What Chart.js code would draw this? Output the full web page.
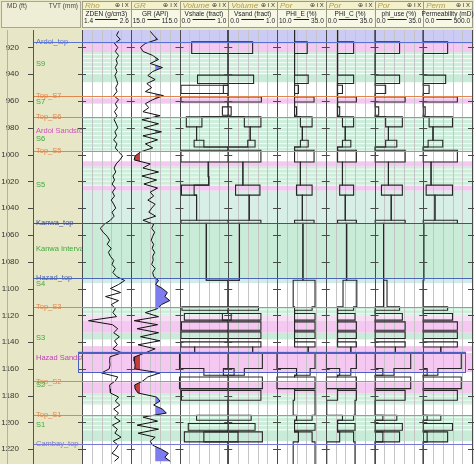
<!DOCTYPE html>
<html><head><meta charset="utf-8">
<script src="https://cdn.jsdelivr.net/npm/chart.js@4/dist/chart.umd.min.js"></script>
<style>html,body{margin:0;padding:0;background:#e7e7c7;}canvas{display:block}</style>
</head><body>
<canvas id="c" width="474" height="464"></canvas>
<script>
// ---------------- DATA ----------------
const depthMin = 907, depthMax = 1231;
const trackTitles = ['Rho','GR','Volume','Volume','Por','Por','Por','Perm'];
const curveNames = ['ZDEN (g/cm3)','GR (API)','Vshale (fract)','Vsand (fract)','PHI_E (%)','PHI_C (%)','phi_use (%)','Permeability (mD)'];
const trackMin = [1.4, 15, 0, 0, 10, 0, 0, 0];
const trackMax = [2.6, 115, 1, 1, 35, 35, 35, 500];
const minLabels = ['1.4','15.0','0.0','0.0','10.0','0.0','0.0','0.0'];
const maxLabels = ['2.6','115.0','1.0','1.0','35.0','35.0','35.0','500.0'];

const logDepth = [908,911,914,917,920,923,926,929,932,935,938,941,944,947,950,953,956,959,962,965,968,971,974,977,980,983,986,989,992,995,998,1001,1004,1007,1010,1013,1016,1019,1022,1025,1028,1031,1034,1037,1040,1043,1046,1049,1052,1055,1058,1061,1064,1067,1070,1073,1076,1079,1082,1085,1088,1091,1094,1097,1100,1103,1106,1109,1112,1115,1118,1121,1124,1127,1130,1133,1136,1139,1142,1145,1148,1151,1154,1157,1160,1163,1166,1169,1172,1175,1178,1181,1184,1187,1190,1193,1196,1199,1202,1205,1208,1211,1214,1217,1220,1223,1226,1229];
const rhoValues = [2.30,2.25,2.34, 2.20,2.28,2.22,2.30, 2.24,2.27,2.22,2.26,2.21,2.25,2.28,2.23,2.26, 2.18,2.30,2.22,2.27, 2.20,2.26,2.19,2.24,2.28,2.21,2.25,2.18,2.26,2.22, 2.30,2.40,2.33,2.24, 2.19,2.23,2.16,2.20,2.14,2.22, 2.15,2.20,2.12,2.18,2.23,2.14,2.19,2.10, 1.95,1.85,1.92,2.02, 2.08,2.02,2.12,2.05,2.10, 2.18,2.14,2.22,2.16,2.25, 2.45,2.30, 2.10,2.35,1.98,2.30,2.12, 2.22,2.16,2.25, 1.56, 2.15,2.28,2.18,2.32,2.20,2.27,2.16, 2.38, 2.09,2.08,2.09,2.07, 1.88, 2.28,2.22, 2.08,2.09,2.10, 2.30,2.22,2.33, 2.18,2.30,2.20,2.34,2.15,2.27,2.21,2.36,2.17,2.29,2.23,2.14,2.31,2.20];
const grValues = [55,62,70, 45,35,40,60, 72,55,80,60,50,65,48,58,45, 82,60,45,52, 40,75,38,72,42,78,40,70,45,60, 35,24,22,55, 40,72,38,68,42,70, 55,62,50,65,58,52,66,40, 62,58,64,60, 57,62,59,64,60, 61,58,65,60,62, 72,66, 80,90,85,95,78, 70,45,72, 22, 70,28,72,35,75,30,65, 45, 23,22,24,23, 75, 50,40, 23,24,30, 68,75,62, 80,88,40,70,28,72,30,65,55,60,78,92,85,96];
const grShaleCutoff = 65, grSandCutoff = 34;

const zoneTops = [907,915.8,924.5,940.7,946.9,948.2,954.4,956.9,960.7,964.4,970.6,971.8,979.3,989.3,994.3,996.8,1000.5,1005.5,1016.6,1022.8,1025.3,1030.3,1049,1051.4,1093.8,1113.7,1116.2,1118.7,1123.6,1124.9,1131.1,1132.4,1137.3,1139.8,1143.6,1148.5,1159.7,1164.7,1166,1174.7,1176,1183.4,1194.6,1198.3,1200.8,1205.8,1207,1214.5];
const vshLo  = [1,.25,1,.37,1,.03,1,.03,1,.88,1,.14,.35,.30,1,.03,.03,.59,.60,.04,.04,.35,.03,.55,1,.05,1,.10,1,.04,1,.03,1,.03,.31,0,.50,1,0,1,.04,1,.35,1,.18,1,.10,1];
const vshHi  = [1,1,1,1,1,.90,1,1,1,1,1,.46,.35,.50,1,1,1,.59,.60,.30,.30,.35,1,.55,1,1,1,.88,1,1,1,1,1,1,.31,1,.90,1,1,1,1,1,1,1,1,1,.50,1];
const vsandLo = [0,0,0,0,0,0,0,0,0,0,0,.33,.45,.40,0,0,0,.30,.30,.15,.15,.43,0,.23,0,0,0,.06,0,0,0,0,0,0,.50,0,.12,0,0,0,0,0,0,0,0,0,.20,0];
const vsandHi = [0,.50,0,.52,0,0,0,.68,0,.06,0,.67,.45,.55,0,.67,.67,.30,.30,.65,.65,.43,.67,.23,0,.62,0,.67,0,.67,0,.67,0,.67,.50,.70,.33,0,.70,0,.67,0,.47,0,.55,0,.70,0];
const phieLo = [19,19,19,19,19,19,19,19,19,19,19,22,23,22,19,19,19,22,22,20,20,23,19,23.3,18.3,19,19,19,19,19,19,19,19,19,26,10,20,19,10,19,19,18.3,20,19,19,19,21,18.3];
const phieHi = [19,25.5,19,26,19,21,19,29,19,20,19,28,23,26,19,29,29,22,22,28,28,23,29,23.3,29.5,28,19,29.5,19,29.5,19,29.5,19,29.5,26,29.5,27,19,29.5,19,29.5,29.5,28,19,29.5,19,28,29.5];
const phicLo = [8.5,8.5,8.5,8.5,8.5,8.5,8.5,8.5,8.5,8.5,8.5,12,14,12,8.5,8.5,8.5,12,12,10,10,14,8.5,15,12.4,8.5,8.5,8.5,8.5,8.5,8.5,8.5,8.5,8.5,18,0.5,10,8.5,0.5,8.5,8.5,0.7,12,8.5,8.5,8.5,10,0.7];
const phicHi = [8.5,20,8.5,20,8.5,12,8.5,22,8.5,10,8.5,20,14,18,8.5,22,22,12,12,20,20,14,22,15,22.3,20,8.5,21,8.5,22,8.5,22,8.5,22,18,22,18,8.5,22,8.5,22,21,20,8.5,21,8.5,20,21];
const phiuLo = [.5,.5,.5,.5,.5,.5,.5,.5,.5,.5,.5,8,10,8,.5,.5,.5,10,10,5,5,12,.5,6.5,6.5,.5,.5,.5,.5,.5,.5,.5,.5,.5,15,.5,6,.5,.5,.5,.5,.5,6,.5,.5,.5,6,.5];
const phiuHi = [.5,18,.5,18,.5,8,.5,22,.5,3,.5,20,10,16,.5,22,22,10,10,20,20,12,22,6.5,9,18,.5,20,.5,22,.5,22,.5,22,15,26,14,.5,26,.5,22,.5,16,.5,20,.5,18,.5];
const permLo = [0,0,0,0,0,0,0,0,0,0,0,60,100,50,0,0,0,80,80,30,30,120,0,5,0,0,0,0,0,0,0,0,0,0,180,0,40,0,0,0,0,0,40,0,0,0,40,0];
const permHi = [0,250,0,230,0,60,0,350,0,20,0,300,100,200,0,350,350,80,80,300,300,120,350,5,0,250,0,300,0,350,0,350,0,350,180,390,150,0,390,0,350,0,180,0,300,0,250,0];

const bandTop    = [907,917.5,923.5,940,958,972,1005,1009,1023.5,1027,1051.4,1093,1114,1120,1124,1133,1143,1148,1170,1178.5,1194.4,1206];
const bandBottom = [917.5,923.5,939,946,962,997,1009,1023.5,1027,1051.4,1093,1096,1120,1124,1133,1138,1147,1162.4,1178.5,1187,1206,1214];
const bandKind   = ['lav','pink','stripe','green','pink','stripe','pink','stripe','pink','pale','green','cyan','stripe','lpink','pink','green','pink','pink','pink','stripe','stripe','green'];

const topNames  = ['Ardoi_top','Top_S7','Top_S6','Top_S5','Kanwa_top','Hazad_top','Top_S3','Top_S2','Top_S1','Cambay_top'];
const topDepths = [915.8,956.1,971.8,997.4,1051.4,1092.4,1113.6,1169.4,1194.4,1216.3];
const topColors = ['#5a72d6','#e0864e','#e0864e','#e0864e','#3e4ea0','#4a66b4','#e0864e','#e0864e','#e0864e','#7a7ad4'];
const zoneNames  = ['S9','S7','Ardoi Sandstone','S6','S5','Kanwa Interval','S4','S3','Hazad Sandstone','S2','S1'];
const zoneDepths = [932,960.5,982.5,988,1023,1070.5,1096.5,1137,1151.8,1172,1202];
const zoneColors = ['#3ea83e','#3ea83e','#d050c0','#3ea83e','#3ea83e','#3ea83e','#3ea83e','#3ea83e','#c040b8','#3ea83e','#3ea83e'];
const hazadBox = [1148, 1162.4];

// ---------------- CHART ----------------
const F = '"Liberation Sans", Arial, sans-serif';
const bandFill = {lav:'#cbcbf3', pink:'#f4c8f0', lpink:'#f8def5', stripe:'#cdeedb', green:'#c8ecd8', pale:'#d8efe8', cyan:'#d2ecee'};
const nT = trackTitles.length;
const pr = v => Math.round(v) + 0.5;

function stepData(vals){
  const d = zoneTops.map((z,i)=>({x: vals[i], y: z}));
  d.push({x: vals[vals.length-1], y: depthMax});
  return d;
}
const scales = {
  y: {type:'linear', reverse:true, min:depthMin, max:depthMax,
      grid:{display:false}, border:{display:false},
      ticks:{stepSize:20, includeBounds:false, padding:55, color:'#333', font:{family:F,size:8}, callback:v=>String(v)},
      afterFit: s => { s.width = 82; s.paddingTop = 0; s.paddingBottom = 0; }}
};
for (let i=0;i<nT;i++){
  const w = trackMax[i]-trackMin[i];
  scales['x'+i] = {type:'linear', display:false, min: trackMin[i]-i*w, max: trackMax[i]+(nT-1-i)*w};
}
const blk = (id, vals) => ({xAxisID:id, yAxisID:'y', data: stepData(vals), stepped:'after', borderColor:'#262626', borderWidth:1.1, pointRadius:0, fill:false});
const datasets = [
  {xAxisID:'x0', yAxisID:'y', data: logDepth.map((d,i)=>({x:rhoValues[i], y:d})), borderColor:'#111', borderWidth:1, pointRadius:0, fill:false},
  {xAxisID:'x1', yAxisID:'y', data: logDepth.map((d,i)=>({x:grValues[i], y:d})), borderColor:'#111', borderWidth:1, pointRadius:0, fill:false},
  blk('x2',vshLo), blk('x2',vshHi), blk('x3',vsandLo), blk('x3',vsandHi),
  blk('x4',phieLo), blk('x4',phieHi), blk('x5',phicLo), blk('x5',phicHi),
  blk('x6',phiuLo), blk('x6',phiuHi), blk('x7',permLo), blk('x7',permHi)
];

function fillSide(ctx, pts, cut, side, color, a){
  ctx.save();
  ctx.beginPath();
  if (side==='right') ctx.rect(cut, a.top, a.right-cut, a.bottom-a.top);
  else ctx.rect(a.left, a.top, cut-a.left, a.bottom-a.top);
  ctx.clip();
  ctx.beginPath();
  ctx.moveTo(cut, pts[0].y);
  pts.forEach(p=>ctx.lineTo(p.x,p.y));
  ctx.lineTo(cut, pts[pts.length-1].y);
  ctx.closePath();
  ctx.fillStyle = color; ctx.fill();
  ctx.restore();
}

const logPlugin = {
  id:'logPlugin',
  beforeDatasetsDraw(chart){
    const {ctx, chartArea:a} = chart; const ys = chart.scales.y;
    const W = a.right-a.left, tw = W/nT;
    ctx.save();
    ctx.fillStyle='#ffffff'; ctx.fillRect(a.left,a.top,W,a.bottom-a.top);
    for (let i=0;i<bandTop.length;i++){
      const y0 = ys.getPixelForValue(bandTop[i]), y1 = ys.getPixelForValue(bandBottom[i]);
      ctx.fillStyle = bandFill[bandKind[i]]; ctx.fillRect(a.left,y0,W,y1-y0);
      if (bandKind[i]==='stripe'){
        ctx.fillStyle='rgba(255,255,255,0.8)';
        for (let p=y0+2;p<y1-1;p+=4) ctx.fillRect(a.left,p,W,1);
      }
    }
    ctx.lineWidth=1; ctx.strokeStyle='#c4c4c4';
    ctx.beginPath();
    for (let i=0;i<nT;i++){ for (let j=1;j<5;j++){ const x=pr(a.left+i*tw+tw*j/5); ctx.moveTo(x,a.top); ctx.lineTo(x,a.bottom);} }
    ctx.stroke();
    const pts = chart.getDatasetMeta(1).data; const xs = chart.scales.x1;
    fillSide(ctx, pts, xs.getPixelForValue(grShaleCutoff), 'right', '#7d7df0', a);
    fillSide(ctx, pts, xs.getPixelForValue(grSandCutoff), 'left', '#c43c3c', a);
    ctx.restore();
  },
  afterDatasetsDraw(chart){
    const {ctx, chartArea:a} = chart; const ys = chart.scales.y;
    const W = a.right-a.left, tw = W/nT;
    ctx.save();
    ctx.strokeStyle='#4a4a4a'; ctx.lineWidth=1; ctx.beginPath();
    for (let i=0;i<=nT;i++){ const x=pr(a.left+i*tw); ctx.moveTo(x,a.top); ctx.lineTo(x,a.bottom); }
    ctx.stroke();
    ctx.beginPath();
    ys.ticks.forEach(t=>{ const y=pr(ys.getPixelForValue(t.value));
      for (let i=0;i<=nT;i++){ const x=a.left+i*tw; ctx.moveTo(x-4,y); ctx.lineTo(x+4,y); }
      ctx.moveTo(28,y); ctx.lineTo(33,y);
    });
    ctx.stroke();
    ctx.lineWidth=1.2;
    topDepths.forEach((d,i)=>{ const y=pr(ys.getPixelForValue(d)); ctx.strokeStyle=topColors[i]; ctx.beginPath(); ctx.moveTo(33,y); ctx.lineTo(a.right,y); ctx.stroke(); });
    const hy0 = ys.getPixelForValue(hazadBox[0]), hy1 = ys.getPixelForValue(hazadBox[1]);
    ctx.strokeStyle='#4d5fc0'; ctx.lineWidth=1; ctx.strokeRect(78.5, pr(hy0), 387, Math.round(hy1-hy0));
    ctx.lineWidth=2; ctx.beginPath(); ctx.moveTo(78,hy0); ctx.lineTo(466,hy0); ctx.stroke();
    ctx.restore();
  },
  afterDraw(chart){
    const {ctx, chartArea:a} = chart; const ys = chart.scales.y;
    const W = a.right-a.left, tw = W/nT;
    ctx.save();
    ctx.strokeStyle='#b4b49a'; ctx.lineWidth=1;
    ctx.beginPath(); ctx.moveTo(7.5,a.top); ctx.lineTo(7.5,a.bottom); ctx.stroke();
    ctx.strokeStyle='#555'; ctx.beginPath(); ctx.moveTo(33.5,a.top); ctx.lineTo(33.5,a.bottom); ctx.stroke();
    ctx.save();
    ctx.beginPath(); ctx.rect(34, a.top, a.left-34, a.bottom-a.top); ctx.clip();
    ctx.font = '7.5px '+F; ctx.textBaseline='middle'; ctx.textAlign='left';
    topNames.forEach((n,i)=>{ ctx.fillStyle=topColors[i]; ctx.fillText(n, 36, ys.getPixelForValue(topDepths[i])); });
    zoneNames.forEach((n,i)=>{ ctx.fillStyle=zoneColors[i]; ctx.fillText(n, 36, ys.getPixelForValue(zoneDepths[i])); });
    ctx.restore();
    ctx.fillStyle='#eeeed6'; ctx.fillRect(1,1,a.left-2,26);
    ctx.strokeStyle='#a8a890'; ctx.strokeRect(1.5,1.5,a.left-3,26);
    ctx.fillStyle='#444'; ctx.font='6.5px '+F; ctx.textBaseline='middle';
    ctx.textAlign='left'; ctx.fillText('MD (ft)', 7, 6);
    ctx.textAlign='right'; ctx.fillText('TVT (mm)', a.left-4, 6);
    for (let i=0;i<nT;i++){
      const x0 = a.left+i*tw, x1 = x0+tw;
      ctx.fillStyle='#f7f7e6'; ctx.fillRect(x0,1,tw,26);
      ctx.fillStyle='#f3f0cc'; ctx.fillRect(x0,1,tw,8);
      ctx.strokeStyle='#9c9c84'; ctx.lineWidth=1;
      ctx.strokeRect(pr(x0),1.5,Math.round(tw),26);
      ctx.beginPath(); ctx.moveTo(x0,9.5); ctx.lineTo(x1,9.5); ctx.stroke();
      ctx.font='italic 8px '+F; ctx.fillStyle='#b59c48'; ctx.textAlign='left';
      ctx.fillText(trackTitles[i], x0+3, 5.5);
      ctx.font='6px '+F; ctx.fillStyle='#333'; ctx.textAlign='right';
      ctx.fillText('\u2295 I X', x1-2, 5.5);
      ctx.font='6.5px '+F; ctx.fillStyle='#222'; ctx.textAlign='center';
      ctx.fillText(curveNames[i], (x0+x1)/2, 14.5);
      ctx.textAlign='left'; ctx.fillText(minLabels[i], x0+2, 21.5);
      ctx.textAlign='right'; ctx.fillText(maxLabels[i], x1-2, 21.5);
      const lw = ctx.measureText(minLabels[i]).width, rw = ctx.measureText(maxLabels[i]).width;
      ctx.strokeStyle='#222'; ctx.beginPath(); ctx.moveTo(x0+4+lw, 19.5); ctx.lineTo(x1-4-rw, 19.5); ctx.stroke();
    }
    ctx.restore();
  }
};

new Chart(document.getElementById('c'), {
  type:'line',
  data:{datasets},
  options:{
    indexAxis:'y', responsive:false, animation:false, events:[],
    layout:{padding:{top:30,right:2,bottom:0,left:0}},
    scales,
    elements:{line:{tension:0}},
    plugins:{legend:{display:false}, tooltip:{enabled:false}}
  },
  plugins:[logPlugin]
});
</script>
</body></html>
